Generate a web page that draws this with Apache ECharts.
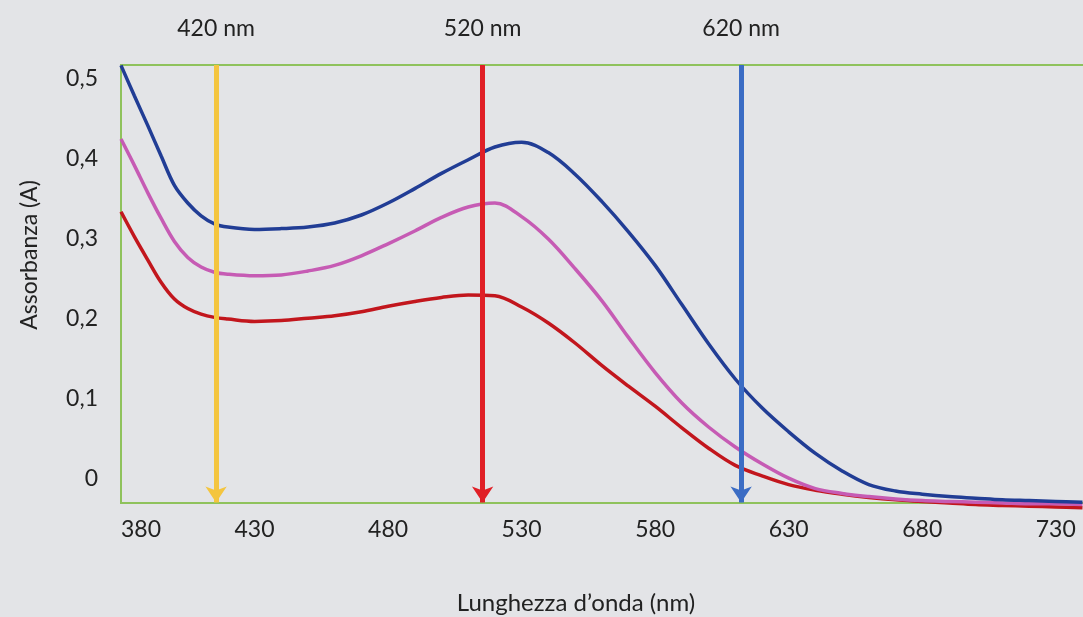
<!DOCTYPE html>
<html>
<head>
<meta charset="utf-8">
<script src="https://cdn.jsdelivr.net/npm/echarts@6/dist/echarts.min.js"></script>
<style>
  html, body { margin: 0; padding: 0; background: #e3e4e7; }
  #chart { width: 1083px; height: 617px; }
</style>
</head>
<body>
<div id="chart"></div>
<script>
// Wavelengths (nm)
const wavelengths = [380,385,390,395,400,405,410,415,420,430,440,450,460,470,480,490,500,510,520,530,540,550,560,570,580,590,600,610,620,630,640,650,660,670,680,690,700,710,720,730,740];
// Absorbance values
const blueCurve = [0.516,0.478,0.441,0.403,0.366,0.344,0.328,0.318,0.314,0.311,0.312,0.314,0.319,0.329,0.344,0.362,0.381,0.398,0.414,0.420,0.407,0.380,0.346,0.308,0.266,0.217,0.168,0.124,0.088,0.058,0.031,0.009,-0.008,-0.016,-0.020,-0.023,-0.025,-0.027,-0.028,-0.029,-0.030];
const magentaCurve = [0.424,0.391,0.357,0.325,0.296,0.276,0.264,0.2575,0.255,0.253,0.254,0.259,0.266,0.278,0.293,0.309,0.326,0.339,0.344,0.327,0.299,0.262,0.222,0.176,0.132,0.094,0.064,0.039,0.018,0.000,-0.013,-0.019,-0.023,-0.026,-0.028,-0.029,-0.030,-0.031,-0.032,-0.032,-0.033];
const redCurve = [0.333,0.302,0.273,0.245,0.224,0.212,0.205,0.201,0.199,0.196,0.197,0.200,0.203,0.208,0.215,0.221,0.226,0.229,0.228,0.214,0.194,0.169,0.141,0.115,0.090,0.063,0.0375,0.016,0.003,-0.008,-0.015,-0.020,-0.024,-0.027,-0.029,-0.031,-0.033,-0.034,-0.035,-0.036,-0.037];
// Arrow annotations (positions) and their texts
const arrowPositions = [415.6, 515.4, 612.2];
const arrowLabels = ['420 nm', '520 nm', '620 nm'];
const arrowColors = ['#f4c53f', '#e01f26', '#3b6cc4'];
// Tick labels
const yTickValues = [0, 0.1, 0.2, 0.3, 0.4, 0.5];
const xTickStep = 50;

const yTop = 0.5165, yBottom = -0.031;
const FONT = 'Lato, "Open Sans", sans-serif';

const chart = echarts.init(document.getElementById('chart'));
const toPairs = arr => wavelengths.map((w, i) => [w, arr[i]]);

const curveSeries = (data, color) => ({
  type: 'line', data: toPairs(data), smooth: 0.35, showSymbol: false, clip: false,
  lineStyle: { color: color, width: 3.5 }, silent: true, animation: false
});

chart.setOption({
  backgroundColor: '#e3e4e7',
  animation: false,
  grid: { left: 121, right: -4, top: 65, bottom: 114, outerBoundsMode: 'none', containLabel: false, show: true, borderColor: '#8fc25c', borderWidth: 2, backgroundColor: 'transparent' },
  xAxis: {
    type: 'value', min: 380, max: 741.7, interval: xTickStep,
    axisLine: { show: false }, axisTick: { show: false }, splitLine: { show: false },
    axisLabel: { fontFamily: FONT, fontSize: 23, color: '#222', margin: 15, showMaxLabel: false, alignMinLabel: 'left' },
    name: 'Lunghezza d\u2019onda (nm)', nameLocation: 'middle', nameGap: 88,
    nameTextStyle: { fontFamily: FONT, fontSize: 24, color: '#222', padding: [0, 56, 0, 0] }
  },
  yAxis: {
    type: 'value', min: yBottom, max: yTop,
    axisLine: { show: false }, axisTick: { show: false }, splitLine: { show: false },
    axisLabel: {
      customValues: yTickValues, fontFamily: FONT, fontSize: 23, color: '#222', margin: 23,
      formatter: v => v === 0 ? '0' : v.toFixed(1).replace('.', ',')
    },
    name: 'Assorbanza (A)', nameLocation: 'middle', nameGap: 80,
    nameTextStyle: { fontFamily: FONT, fontSize: 23, color: '#222', padding: [0, 0, 0, 58] }
  },
  series: [
    curveSeries(redCurve, '#c2161d'),
    curveSeries(magentaCurve, '#c65bb4'),
    curveSeries(blueCurve, '#213d95'),
    {
      type: 'line', data: [], silent: true,
      markLine: {
        silent: true, animation: false,
        symbol: ['none', 'arrow'], symbolSize: 16,
        data: arrowPositions.map((x, i) => [
          {
            coord: [x, yTop],
            lineStyle: { color: arrowColors[i], width: 5, type: 'solid' },
            label: { show: true, position: 'start', formatter: arrowLabels[i], fontFamily: FONT, fontSize: 23, color: '#222', distance: 25 }
          },
          { coord: [x, -0.0305] }
        ])
      }
    }
  ]
});
</script>
</body>
</html>
